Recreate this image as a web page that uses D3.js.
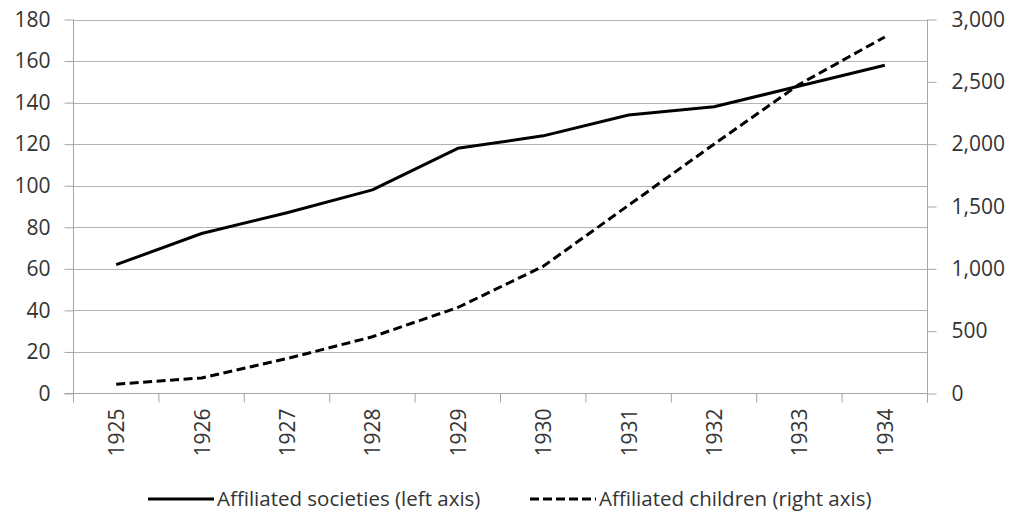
<!DOCTYPE html>
<html><head><meta charset="utf-8">
<script src="https://cdn.jsdelivr.net/npm/d3@7"></script>
<style>
body{margin:0;background:#fff}
svg text{font-family:"Open Sans",sans-serif;fill:#333}
</style></head><body>
<svg id="chart" width="1013" height="512"></svg>
<script>
// Data
const years = ["1925","1926","1927","1928","1929","1930","1931","1932","1933","1934"];
const societies = [62, 77, 87, 98, 118, 124, 134, 138, 148, 158];
const children = [75, 125, 280, 455, 690, 1020, 1510, 2000, 2480, 2860];
const leftTicks = [0, 20, 40, 60, 80, 100, 120, 140, 160, 180];
const rightTicks = [0, 500, 1000, 1500, 2000, 2500, 3000];
const seriesNames = ["Affiliated societies (left axis)", "Affiliated children (right axis)"];

const svg = d3.select("#chart");
const plotL = 73.5, plotR = 927.5, plotT = 19.5, plotB = 393.5;
const gridColor = "#b4b4b4", axisColor = "#a6a6a6", textColor = "#333";

const x = d3.scaleBand().domain(years).range([plotL, plotR]).padding(0);
const yL = d3.scaleLinear().domain([0, 180]).range([plotB, plotT]);
const yR = d3.scaleLinear().domain([0, 3000]).range([plotB, plotT]);
const cx = d => x(d) + x.bandwidth() / 2;

// Horizontal gridlines
svg.append("g").selectAll("line").data(leftTicks.filter(t => t > 0)).join("line")
  .attr("x1", plotL).attr("x2", plotR)
  .attr("y1", d => Math.round(yL(d)) + 0.5).attr("y2", d => Math.round(yL(d)) + 0.5)
  .attr("stroke", gridColor).attr("stroke-width", 1);

// Left axis
const axL = svg.append("g").attr("transform", `translate(${plotL},0)`)
  .call(d3.axisLeft(yL).tickValues(leftTicks).tickSize(9).tickSizeOuter(0).tickPadding(14));
axL.selectAll("text").style("font-size", "21px");

// Right axis
const axR = svg.append("g").attr("transform", `translate(${plotR},0)`)
  .call(d3.axisRight(yR).tickValues(rightTicks).tickSize(9).tickSizeOuter(0).tickPadding(15)
    .tickFormat(d3.format(",")));
axR.selectAll("text").style("font-size", "21px");

// Bottom axis with ticks on category boundaries
const axB = svg.append("g");
axB.append("line").attr("x1", plotL - 9).attr("x2", plotR).attr("y1", plotB).attr("y2", plotB)
  .attr("stroke", axisColor);
const bounds = years.map(d => x(d)).concat([x.range()[1]]);
axB.selectAll("line.tk").data(bounds).join("line").attr("class", "tk")
  .attr("x1", d => d).attr("x2", d => d)
  .attr("y1", plotB).attr("y2", plotB + 9).attr("stroke", axisColor);
axB.selectAll("text").data(years).join("text")
  .attr("transform", d => `translate(${cx(d)},${plotB + 15}) rotate(-90)`)
  .attr("text-anchor", "end").attr("dominant-baseline", "central")
  .style("font-size", "21px").text(d => d);

[axL, axR].forEach(a => {
  a.selectAll(".domain").attr("stroke", axisColor);
  a.selectAll(".tick line").attr("stroke", axisColor);
  a.selectAll("text").attr("fill", textColor);
});
axL.select(".domain").attr("d", `M0,${plotT}V${plotB + 9}`);
axR.select(".domain").attr("d", `M0,${plotT}V${plotB + 9}`);

// Series lines
const lineL = d3.line().x((d, i) => cx(years[i])).y(d => yL(d));
const lineR = d3.line().x((d, i) => cx(years[i])).y(d => yR(d));
svg.append("path").datum(societies).attr("d", lineL)
  .attr("fill", "none").attr("stroke", "#000").attr("stroke-width", 3)
  .attr("stroke-linejoin", "round");
svg.append("path").datum(children).attr("d", lineR)
  .attr("fill", "none").attr("stroke", "#000").attr("stroke-width", 3)
  .attr("stroke-linejoin", "round").attr("stroke-dasharray", "9,4.5");

// Legend
const legend = svg.append("g");
const legItems = [
  {name: seriesNames[0], x0: 148, x1: 214, dash: null},
  {name: seriesNames[1], x0: 530, x1: 596, dash: "9,4"}
];
legItems.forEach(it => {
  legend.append("line").attr("x1", it.x0).attr("x2", it.x1).attr("y1", 499).attr("y2", 499)
    .attr("stroke", "#000").attr("stroke-width", 3).attr("stroke-dasharray", it.dash);
  legend.append("text").attr("x", it.x1 + 3).attr("y", 498).attr("dominant-baseline", "central")
    .style("font-size", "20.5px").text(it.name);
});
</script>
</body></html>
